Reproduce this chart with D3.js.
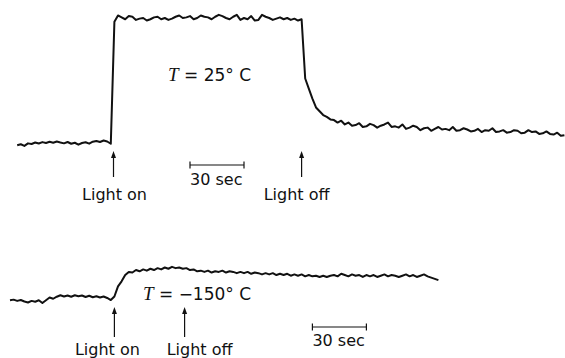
<!DOCTYPE html>
<html><head><meta charset="utf-8">
<script src="https://cdn.jsdelivr.net/npm/d3@7"></script>
<style>
html,body{margin:0;padding:0;background:#fff;}
svg{display:block;}
text{font-family:"DejaVu Sans",sans-serif;fill:#111;}
</style></head>
<body>
<script>
// ---- data (time in seconds, signal in arbitrary units) ----
const topTime = [4,6,8,10,12,14,16,18,20,22,24,26,28,30,32,34,36,38,40,42,44,46,48,50,52,54,56,
 58,60,62,64,66,68,70,72,74,76,78,80,82,84,86,88,90,92,94,96,98,100,102,104,106,108,110,112,114,116,118,120,122,124,126,128,130,132,134,136,138,140,142,144,146,148,150,152,154,156,158,160,162,
 164,166,168,170,172,174,176,178,180,182,184,186,188,190,192,194,196,198,200,202,204,206,208,210,212,214,216,218,220,222,224,226,228,230,232,234,236,238,240,242,244,246,248,250,252,254,256,258,260,262,264,266,268,270,272,274,276,278,280,282,284,286,288,290,292,294,296,298,300,302,304,306,308];
const topSignal = [-1.0,-0.2,-1.5,0.5,0.0,1.2,0.4,1.5,0.8,1.8,1.0,2.0,1.2,0.5,1.6,0.2,1.0,-0.5,0.8,1.4,0.3,1.8,2.4,1.6,2.8,2.0,0.2,
 97,102,100.5,99,101.5,101,98.5,99.5,100,98,
 99,100.5,101,99,100,98.5,99.5,101,102,100,
 100.5,101.5,99,100,102,101,100.5,99,101,102.5,
 101.5,100,99,101,102.5,98.5,100,99,101.5,98,
 98.5,102.5,101,100,98.5,99.5,100.5,99,100,98.5,
 99.5,98,99,
 52,44,36,29,26,23,21.5,19.5,19,17,18.5,
 15.5,17,14.5,15,16.5,13.5,14,16,15,13,
 14.5,15.5,17,13.5,14,13,15.5,12,13,14.5,
 13.5,11,12.5,13,10.5,12,13.5,11.5,12,11,
 13.5,10.5,11,12.5,11.5,10,10.5,12,9.5,11,
 10.5,12.5,9.5,10,11,9,9.5,11,10.5,8.5,
 9,11,9.5,10,8,8.5,10,8,7.5,9,
 6.5,7];

const bottomTime = [0,2,4,6,8,10,12,14,16,18,20,22,24,26,28,30,32,34,36,38,40,42,44,46,48,50,52,54,56,
 58,60,62,64,66,68,70,72,74,76,78,80,82,84,86,88,90,92,94,96,98,100,102,104,106,108,110,112,114,116,118,120,122,124,126,128,130,132,134,136,138,140,142,144,146,148,150,152,154,156,158,160,162,164,166,168,170,172,174,176,178,180,182,184,186,188,190,192,194,196,198,200,202,204,206,208,210,212,214,216,218,220,222,224,226,228,230,232,234,236,238];
const bottomSignal = [-1,-0.5,-1.5,-0.8,-2,-2.8,-1.5,-2.2,-1,-3.2,-1,1.2,0.2,1.8,3,2,2.8,1.8,3,2.2,2.8,1.6,2.6,1.4,2.2,1.2,2,0.8,-0.8,
 2,10,14,19,21.5,21,23,22,23.5,22.5,24,23,24.5,23.5,25,24,25.5,24.5,25,24,24.5,23,23.5,22,22.5,21.5,22.5,21,22,21.5,22.5,21,22,21.5,20.5,21.5,20.5,21.5,20,21,20.5,19.5,20.5,19.5,20.5,19,20,19,20,18.5,19.5,18.5,19.5,18,19,18,18.5,17.5,18.5,17.5,18.5,19,18,20,19,18,19.5,18.5,19,17.5,19,18,19,17.5,18.5,19.5,18,19,18.5,17.5,18.5,19.5,18,19,17.5,18.5,19.5,18,17,16,15];

const topEvents = [57.5, 162];
const bottomEvents = [58, 97];
const eventLabels = ["Light on", "Light off"];
const scaleBarTop = [100, 130];
const scaleBarBottom = [168, 198];
const scaleBarLabel = "30 sec";

// ---- layout ----
const W = 565, H = 358;
const svg = d3.select("body").append("svg").attr("width", W).attr("height", H);

const x = d3.scaleLinear().domain([0, 100]).range([10, 190]);
const yTop = d3.scaleLinear().domain([0, 100]).range([144, 18]);
const yBot = d3.scaleLinear().domain([0, 100]).range([299, 173]);

function trace(times, vals, y) {
  const pts = times.map((t, i) => [t, vals[i]]).filter(d => d[1] != null);
  svg.append("path").datum(pts)
    .attr("fill", "none").attr("stroke", "#111")
    .attr("stroke-width", 2).attr("stroke-linejoin", "round")
    .attr("d", d3.line().x(d => x(d[0])).y(d => y(d[1])));
}
trace(topTime, topSignal, yTop);
trace(bottomTime, bottomSignal, yBot);

function arrows(events, y0, y1, labelY, offsets) {
  events.forEach((t, i) => {
    const xp = x(t);
    svg.append("line").attr("x1", xp).attr("x2", xp)
      .attr("y1", y0 + 4).attr("y2", y1)
      .attr("stroke", "#111").attr("stroke-width", 1.2);
    svg.append("path")
      .attr("d", `M${xp},${y0} L${xp + 2.5},${y0 + 7} L${xp - 2.5},${y0 + 7} Z`)
      .attr("fill", "#111");
    svg.append("text").attr("x", xp + offsets[i]).attr("y", labelY)
      .attr("text-anchor", "middle").attr("font-size", 16)
      .text(eventLabels[i]);
  });
}
arrows(topEvents, 151, 177, 200, [1, -5]);
arrows(bottomEvents, 307, 337, 355, [-7, 15]);

function scaleBar(span, yb, labelY) {
  const g = svg.append("g").attr("stroke", "#111").attr("stroke-width", 1.2);
  g.append("line").attr("x1", x(span[0])).attr("x2", x(span[1])).attr("y1", yb).attr("y2", yb);
  g.append("line").attr("x1", x(span[0])).attr("x2", x(span[0])).attr("y1", yb - 3.5).attr("y2", yb + 3.5);
  g.append("line").attr("x1", x(span[1])).attr("x2", x(span[1])).attr("y1", yb - 3.5).attr("y2", yb + 3.5);
  svg.append("text").attr("x", x(span[0])).attr("y", labelY).attr("font-size", 16).text(scaleBarLabel);
}
scaleBar(scaleBarTop, 165, 185);
scaleBar(scaleBarBottom, 327, 346);

function tempLabel(xp, yp, value) {
  const t = svg.append("text").attr("x", xp).attr("y", yp).attr("font-size", 17);
  t.append("tspan").attr("font-family", "'Liberation Serif',serif").attr("font-style", "italic").attr("font-size", 19).text("T");
  t.append("tspan").text(" = " + value + "° C");
}
tempLabel(168, 81, "25");
tempLabel(143, 300, "\u2212150");
</script>
</body></html>
